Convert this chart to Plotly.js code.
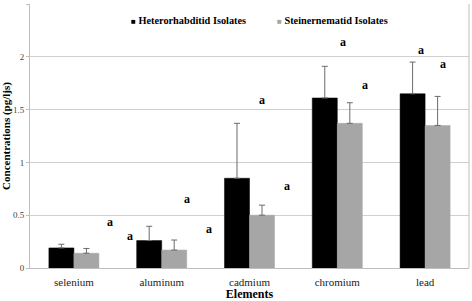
<!DOCTYPE html>
<html>
<head>
<meta charset="utf-8">
<script src="https://cdn.plot.ly/plotly-3.0.1.min.js"></script>
<style>html,body{margin:0;padding:0;background:#fff}#chart{width:472px;height:301px}</style>
</head>
<body>
<div id="chart"></div>
<script>
const elements = ["selenium", "aluminum", "cadmium", "chromium", "lead"];
const seriesNames = ["Heterorhabditid Isolates", "Steinernematid Isolates"];
const seriesColors = ["#000000", "#a6a6a6"];
const heteroValues = [0.19, 0.26, 0.85, 1.61, 1.65];
const heteroErrors = [0.035, 0.135, 0.52, 0.30, 0.30];
const steinValues = [0.14, 0.17, 0.50, 1.37, 1.35];
const steinErrors = [0.045, 0.095, 0.095, 0.195, 0.275];
const letterX = [0.41, 0.64, 1.29, 1.54, 2.14, 2.43, 3.06, 3.31, 3.95, 4.20];
const letterY = [0.44, 0.30, 0.65, 0.37, 1.59, 0.78, 2.14, 1.73, 2.06, 1.93];
const letterText = ["a", "a", "a", "a", "a", "a", "a", "a", "a", "a"];

const serif = "'Times New Roman', 'Liberation Serif', serif";

const traces = [
  {
    type: "bar", name: seriesNames[0], x: elements, y: heteroValues, showlegend: false,
    marker: {color: seriesColors[0], line: {color: seriesColors[0], width: 0.5}},
    error_y: {type: "data", array: heteroErrors, symmetric: false, arrayminus: heteroErrors.map(() => 0), color: "#6b6b6b", thickness: 1, width: 3}
  },
  {
    type: "bar", name: seriesNames[1], x: elements, y: steinValues, showlegend: false,
    marker: {color: seriesColors[1], line: {color: seriesColors[1], width: 0.5}},
    error_y: {type: "data", array: steinErrors, symmetric: false, arrayminus: steinErrors.map(() => 0), color: "#6b6b6b", thickness: 1, width: 3}
  }
];

const annotations = letterX.map((x, i) => ({
  x: x, y: letterY[i], xref: "x", yref: "y", text: letterText[i], showarrow: false,
  font: {family: serif, size: 12, color: "#000", weight: "bold"}
}));

// legend drawn as text entries (small square key + bold label)
const legendX = [0.226, 0.558];
seriesNames.forEach((name, i) => {
  annotations.push({
    x: legendX[i], y: 0.938, xref: "paper", yref: "paper", xanchor: "left", yanchor: "middle",
    showarrow: false,
    text: "<span style='color:" + seriesColors[i] + ";font-size:8px'>■</span> " + name,
    font: {family: serif, size: 10.3, color: "#000", weight: "bold"}
  });
});

const layout = {
  width: 472, height: 301,
  margin: {l: 30, r: 3, t: 4, b: 33, pad: 0},
  paper_bgcolor: "#fff", plot_bgcolor: "#fff",
  barmode: "group", bargap: 0.43, bargroupgap: 0,
  font: {family: serif, color: "#000"},
  showlegend: false,
  xaxis: {
    type: "category", showgrid: false, showline: true, linecolor: "#bfbfbf", linewidth: 1,
    mirror: false, ticks: "outside", ticklen: 4, tickcolor: "rgba(0,0,0,0)", tickfont: {family: serif, size: 11, color: "#222"},
    title: {text: "Elements", font: {family: serif, size: 12, color: "#000", weight: "bold"}, standoff: 5}
  },
  yaxis: {
    range: [0, 2.5], tickvals: [0, 0.5, 1, 1.5, 2, 2.5], ticktext: ["0", "0.5", "1", "1.5", "2", "2.5"],
    showgrid: true, gridcolor: "#d0d0d0", gridwidth: 1,
    showline: true, linecolor: "#bfbfbf", linewidth: 1, ticks: "outside", ticklen: 3, tickcolor: "#bfbfbf",
    zeroline: false, tickfont: {family: serif, size: 9, color: "#444"},
    title: {text: "Concentrations (pg/ljs)", font: {family: serif, size: 11, color: "#000", weight: "bold"}, standoff: 2}
  },
  shapes: [
    {type: "line", xref: "paper", yref: "paper", x0: 1, x1: 1, y0: 0, y1: 1, line: {color: "#bfbfbf", width: 1}}
  ],
  annotations: annotations
};

Plotly.newPlot("chart", traces, layout, {displayModeBar: false, staticPlot: true});
</script>
</body>
</html>
